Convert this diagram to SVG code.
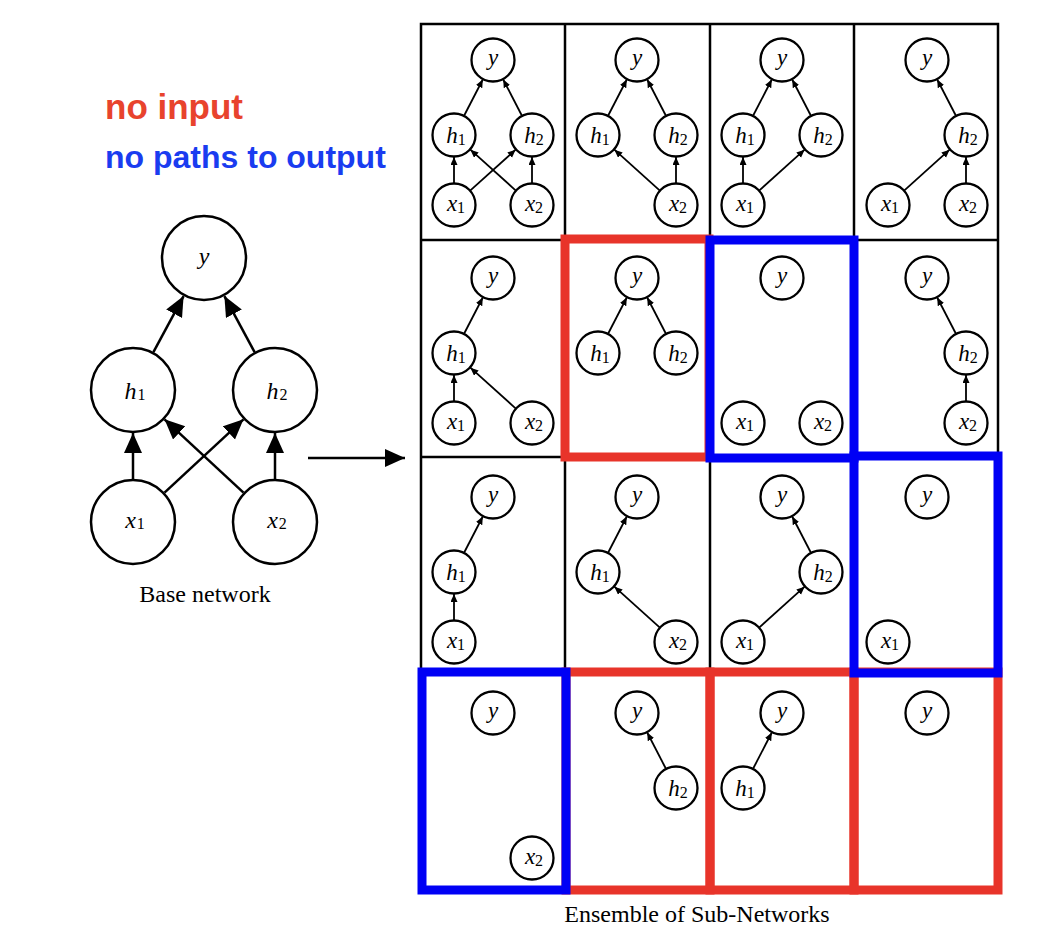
<svg xmlns="http://www.w3.org/2000/svg" width="1060" height="934" viewBox="0 0 1060 934">
<defs>
<style>
.nd circle{fill:#fff;stroke:#000;stroke-width:2.3}
.bn circle{fill:#fff;stroke:#000;stroke-width:2.5}
.nd text{font-family:"Liberation Serif",serif;font-size:23px;text-anchor:middle;fill:#000}
.bn text{font-family:"Liberation Serif",serif;font-size:24px;text-anchor:middle;fill:#000}
.i{font-style:italic}
.nd .s{font-size:16px}
.bn .s{font-size:16px}
.e line{stroke:#000;stroke-width:1.8;marker-end:url(#sa)}
.be line{stroke:#000;stroke-width:2.5;marker-end:url(#ba)}
.grid{fill:none;stroke:#000;stroke-width:2.5}
.rb{fill:none;stroke:#e8342a;stroke-width:9}
.bb{fill:none;stroke:#0000f5;stroke-width:9}
.cap{font-family:"Liberation Serif",serif;font-size:24px;text-anchor:middle;fill:#000}
.leg{font-family:"Liberation Sans",Arial,sans-serif;font-weight:bold}
</style>
<marker id="sa" markerUnits="userSpaceOnUse" markerWidth="9" markerHeight="8" refX="8" refY="3.5" orient="auto"><path d="M0,0 L8,3.5 L0,7 z" fill="#000"/></marker>
<marker id="ba" markerUnits="userSpaceOnUse" markerWidth="22" markerHeight="20" refX="20" refY="9" orient="auto"><path d="M0,0 L20,9 L0,18 z" fill="#000"/></marker>
</defs>
<rect width="1060" height="934" fill="#fff"/>

<text class="leg" x="105" y="119" font-size="35" fill="#e8432d">no input</text>
<text class="leg" x="105" y="168" font-size="32" fill="#1a3cf0">no paths to output</text>

<g id="grid" class="grid">
<rect x="421" y="24" width="577" height="866"/>
<line x1="565" y1="24" x2="565" y2="890"/>
<line x1="710" y1="24" x2="710" y2="890"/>
<line x1="854" y1="24" x2="854" y2="890"/>
<line x1="421" y1="240" x2="998" y2="240"/>
<line x1="421" y1="457" x2="998" y2="457"/>
<line x1="421" y1="673" x2="998" y2="673"/>
</g>

<g id="connectors">
<g class="be">
<line x1="133" y1="479" x2="133" y2="433"/>
<line x1="275" y1="479" x2="275" y2="433"/>
<line x1="164.5" y1="492.7" x2="243.5" y2="419.3"/>
<line x1="243.5" y1="492.7" x2="164.5" y2="419.3"/>
<line x1="153.4" y1="352.1" x2="183.6" y2="296.1"/>
<line x1="254.6" y1="352.1" x2="224.4" y2="296.1"/>
<line x1="308" y1="458" x2="405" y2="458"/>
</g>
<g class="e">
<line x1="454" y1="183" x2="454" y2="157"/>
<line x1="532" y1="183" x2="532" y2="157"/>
<line x1="470.4" y1="190.3" x2="515.6" y2="149.7"/>
<line x1="515.6" y1="190.3" x2="470.4" y2="149.7"/>
<line x1="464.2" y1="115.5" x2="482.8" y2="79.5"/>
<line x1="521.8" y1="115.5" x2="503.2" y2="79.5"/>

<line x1="659.6" y1="190.3" x2="614.4" y2="149.7"/>
<line x1="676" y1="183" x2="676" y2="157"/>
<line x1="608.2" y1="115.5" x2="626.8" y2="79.5"/>
<line x1="665.8" y1="115.5" x2="647.2" y2="79.5"/>

<line x1="743" y1="183" x2="743" y2="157"/>
<line x1="759.4" y1="190.3" x2="804.6" y2="149.7"/>
<line x1="753.2" y1="115.5" x2="771.8" y2="79.5"/>
<line x1="810.8" y1="115.5" x2="792.2" y2="79.5"/>

<line x1="904.4" y1="190.3" x2="949.6" y2="149.7"/>
<line x1="966" y1="183" x2="966" y2="157"/>
<line x1="955.8" y1="115.5" x2="937.2" y2="79.5"/>

<line x1="454" y1="401" x2="454" y2="375"/>
<line x1="515.6" y1="408.3" x2="470.4" y2="367.7"/>
<line x1="464.2" y1="333.5" x2="482.8" y2="297.5"/>

<line x1="608.2" y1="333.5" x2="626.8" y2="297.5"/>
<line x1="665.8" y1="333.5" x2="647.2" y2="297.5"/>

<line x1="966" y1="401" x2="966" y2="375"/>
<line x1="955.8" y1="333.5" x2="937.2" y2="297.5"/>

<line x1="454" y1="620" x2="454" y2="594"/>
<line x1="464.2" y1="552.5" x2="482.8" y2="516.5"/>

<line x1="659.6" y1="627.3" x2="614.4" y2="586.7"/>
<line x1="608.2" y1="552.5" x2="626.8" y2="516.5"/>

<line x1="759.4" y1="627.3" x2="804.6" y2="586.7"/>
<line x1="810.8" y1="552.5" x2="792.2" y2="516.5"/>

<line x1="665.8" y1="768.5" x2="647.2" y2="732.5"/>
<line x1="753.2" y1="768.5" x2="771.8" y2="732.5"/>
</g>
</g>

<g id="base-network">
<g id="base-y" class="bn" transform="translate(204,258)"><circle r="42"/><text y="6"><tspan class="i">y</tspan></text></g>
<g id="base-h1" class="bn" transform="translate(133,390)"><circle r="42"/><text x="2" y="9"><tspan class="i">h</tspan><tspan class="s" dx="1" dy="1">1</tspan></text></g>
<g id="base-h2" class="bn" transform="translate(275,390)"><circle r="42"/><text x="2" y="9"><tspan class="i">h</tspan><tspan class="s" dx="1" dy="1">2</tspan></text></g>
<g id="base-x1" class="bn" transform="translate(133,522)"><circle r="42"/><text x="2" y="6"><tspan class="i">x</tspan><tspan class="s" dx="1" dy="1">1</tspan></text></g>
<g id="base-x2" class="bn" transform="translate(275,522)"><circle r="42"/><text x="2" y="6"><tspan class="i">x</tspan><tspan class="s" dx="1" dy="1">2</tspan></text></g>
<text class="cap" x="205" y="602">Base network</text>
</g>

<g id="sub-networks">
<!-- row 1 -->
<g id="n11-y" class="nd" transform="translate(493,60)"><circle r="21.5"/><text y="5"><tspan class="i">y</tspan></text></g>
<g id="n11-h1" class="nd" transform="translate(454,135)"><circle r="21.5"/><text x="2" y="8"><tspan class="i">h</tspan><tspan class="s" dy="2">1</tspan></text></g>
<g id="n11-h2" class="nd" transform="translate(532,135)"><circle r="21.5"/><text x="2" y="8"><tspan class="i">h</tspan><tspan class="s" dy="2">2</tspan></text></g>
<g id="n11-x1" class="nd" transform="translate(454,205)"><circle r="21.5"/><text x="2" y="6"><tspan class="i">x</tspan><tspan class="s" dy="2">1</tspan></text></g>
<g id="n11-x2" class="nd" transform="translate(532,205)"><circle r="21.5"/><text x="2" y="6"><tspan class="i">x</tspan><tspan class="s" dy="2">2</tspan></text></g>

<g id="n12-y" class="nd" transform="translate(637,60)"><circle r="21.5"/><text y="5"><tspan class="i">y</tspan></text></g>
<g id="n12-h1" class="nd" transform="translate(598,135)"><circle r="21.5"/><text x="2" y="8"><tspan class="i">h</tspan><tspan class="s" dy="2">1</tspan></text></g>
<g id="n12-h2" class="nd" transform="translate(676,135)"><circle r="21.5"/><text x="2" y="8"><tspan class="i">h</tspan><tspan class="s" dy="2">2</tspan></text></g>
<g id="n12-x2" class="nd" transform="translate(676,205)"><circle r="21.5"/><text x="2" y="6"><tspan class="i">x</tspan><tspan class="s" dy="2">2</tspan></text></g>

<g id="n13-y" class="nd" transform="translate(782,60)"><circle r="21.5"/><text y="5"><tspan class="i">y</tspan></text></g>
<g id="n13-h1" class="nd" transform="translate(743,135)"><circle r="21.5"/><text x="2" y="8"><tspan class="i">h</tspan><tspan class="s" dy="2">1</tspan></text></g>
<g id="n13-h2" class="nd" transform="translate(821,135)"><circle r="21.5"/><text x="2" y="8"><tspan class="i">h</tspan><tspan class="s" dy="2">2</tspan></text></g>
<g id="n13-x1" class="nd" transform="translate(743,205)"><circle r="21.5"/><text x="2" y="6"><tspan class="i">x</tspan><tspan class="s" dy="2">1</tspan></text></g>

<g id="n14-y" class="nd" transform="translate(927,60)"><circle r="21.5"/><text y="5"><tspan class="i">y</tspan></text></g>
<g id="n14-h2" class="nd" transform="translate(966,135)"><circle r="21.5"/><text x="2" y="8"><tspan class="i">h</tspan><tspan class="s" dy="2">2</tspan></text></g>
<g id="n14-x1" class="nd" transform="translate(888,205)"><circle r="21.5"/><text x="2" y="6"><tspan class="i">x</tspan><tspan class="s" dy="2">1</tspan></text></g>
<g id="n14-x2" class="nd" transform="translate(966,205)"><circle r="21.5"/><text x="2" y="6"><tspan class="i">x</tspan><tspan class="s" dy="2">2</tspan></text></g>

<!-- row 2 -->
<g id="n21-y" class="nd" transform="translate(493,278)"><circle r="21.5"/><text y="5"><tspan class="i">y</tspan></text></g>
<g id="n21-h1" class="nd" transform="translate(454,353)"><circle r="21.5"/><text x="2" y="8"><tspan class="i">h</tspan><tspan class="s" dy="2">1</tspan></text></g>
<g id="n21-x1" class="nd" transform="translate(454,423)"><circle r="21.5"/><text x="2" y="6"><tspan class="i">x</tspan><tspan class="s" dy="2">1</tspan></text></g>
<g id="n21-x2" class="nd" transform="translate(532,423)"><circle r="21.5"/><text x="2" y="6"><tspan class="i">x</tspan><tspan class="s" dy="2">2</tspan></text></g>

<g id="n22-y" class="nd" transform="translate(637,278)"><circle r="21.5"/><text y="5"><tspan class="i">y</tspan></text></g>
<g id="n22-h1" class="nd" transform="translate(598,353)"><circle r="21.5"/><text x="2" y="8"><tspan class="i">h</tspan><tspan class="s" dy="2">1</tspan></text></g>
<g id="n22-h2" class="nd" transform="translate(676,353)"><circle r="21.5"/><text x="2" y="8"><tspan class="i">h</tspan><tspan class="s" dy="2">2</tspan></text></g>

<g id="n23-y" class="nd" transform="translate(782,278)"><circle r="21.5"/><text y="5"><tspan class="i">y</tspan></text></g>
<g id="n23-x1" class="nd" transform="translate(743,423)"><circle r="21.5"/><text x="2" y="6"><tspan class="i">x</tspan><tspan class="s" dy="2">1</tspan></text></g>
<g id="n23-x2" class="nd" transform="translate(821,423)"><circle r="21.5"/><text x="2" y="6"><tspan class="i">x</tspan><tspan class="s" dy="2">2</tspan></text></g>

<g id="n24-y" class="nd" transform="translate(927,278)"><circle r="21.5"/><text y="5"><tspan class="i">y</tspan></text></g>
<g id="n24-h2" class="nd" transform="translate(966,353)"><circle r="21.5"/><text x="2" y="8"><tspan class="i">h</tspan><tspan class="s" dy="2">2</tspan></text></g>
<g id="n24-x2" class="nd" transform="translate(966,423)"><circle r="21.5"/><text x="2" y="6"><tspan class="i">x</tspan><tspan class="s" dy="2">2</tspan></text></g>

<!-- row 3 -->
<g id="n31-y" class="nd" transform="translate(493,497)"><circle r="21.5"/><text y="5"><tspan class="i">y</tspan></text></g>
<g id="n31-h1" class="nd" transform="translate(454,572)"><circle r="21.5"/><text x="2" y="8"><tspan class="i">h</tspan><tspan class="s" dy="2">1</tspan></text></g>
<g id="n31-x1" class="nd" transform="translate(454,642)"><circle r="21.5"/><text x="2" y="6"><tspan class="i">x</tspan><tspan class="s" dy="2">1</tspan></text></g>

<g id="n32-y" class="nd" transform="translate(637,497)"><circle r="21.5"/><text y="5"><tspan class="i">y</tspan></text></g>
<g id="n32-h1" class="nd" transform="translate(598,572)"><circle r="21.5"/><text x="2" y="8"><tspan class="i">h</tspan><tspan class="s" dy="2">1</tspan></text></g>
<g id="n32-x2" class="nd" transform="translate(676,642)"><circle r="21.5"/><text x="2" y="6"><tspan class="i">x</tspan><tspan class="s" dy="2">2</tspan></text></g>

<g id="n33-y" class="nd" transform="translate(782,497)"><circle r="21.5"/><text y="5"><tspan class="i">y</tspan></text></g>
<g id="n33-h2" class="nd" transform="translate(821,572)"><circle r="21.5"/><text x="2" y="8"><tspan class="i">h</tspan><tspan class="s" dy="2">2</tspan></text></g>
<g id="n33-x1" class="nd" transform="translate(743,642)"><circle r="21.5"/><text x="2" y="6"><tspan class="i">x</tspan><tspan class="s" dy="2">1</tspan></text></g>

<g id="n34-y" class="nd" transform="translate(927,497)"><circle r="21.5"/><text y="5"><tspan class="i">y</tspan></text></g>
<g id="n34-x1" class="nd" transform="translate(888,642)"><circle r="21.5"/><text x="2" y="6"><tspan class="i">x</tspan><tspan class="s" dy="2">1</tspan></text></g>

<!-- row 4 -->
<g id="n41-y" class="nd" transform="translate(493,713)"><circle r="21.5"/><text y="5"><tspan class="i">y</tspan></text></g>
<g id="n41-x2" class="nd" transform="translate(532,858)"><circle r="21.5"/><text x="2" y="6"><tspan class="i">x</tspan><tspan class="s" dy="2">2</tspan></text></g>

<g id="n42-y" class="nd" transform="translate(637,713)"><circle r="21.5"/><text y="5"><tspan class="i">y</tspan></text></g>
<g id="n42-h2" class="nd" transform="translate(676,788)"><circle r="21.5"/><text x="2" y="8"><tspan class="i">h</tspan><tspan class="s" dy="2">2</tspan></text></g>

<g id="n43-y" class="nd" transform="translate(782,713)"><circle r="21.5"/><text y="5"><tspan class="i">y</tspan></text></g>
<g id="n43-h1" class="nd" transform="translate(743,788)"><circle r="21.5"/><text x="2" y="8"><tspan class="i">h</tspan><tspan class="s" dy="2">1</tspan></text></g>

<g id="n44-y" class="nd" transform="translate(927,713)"><circle r="21.5"/><text y="5"><tspan class="i">y</tspan></text></g>
</g>

<g id="highlights">
<rect class="rb" x="565" y="239" width="144" height="218"/>
<rect class="rb" x="566" y="672" width="144" height="218"/>
<rect class="rb" x="710" y="672" width="144" height="218"/>
<rect class="rb" x="854" y="672" width="144" height="218"/>
<rect class="bb" x="710" y="240" width="144" height="218"/>
<rect class="bb" x="854" y="456" width="144" height="217"/>
<rect class="bb" x="422" y="672" width="144" height="218"/>
</g>

<text class="cap" x="697" y="922">Ensemble of Sub-Networks</text>
</svg>
